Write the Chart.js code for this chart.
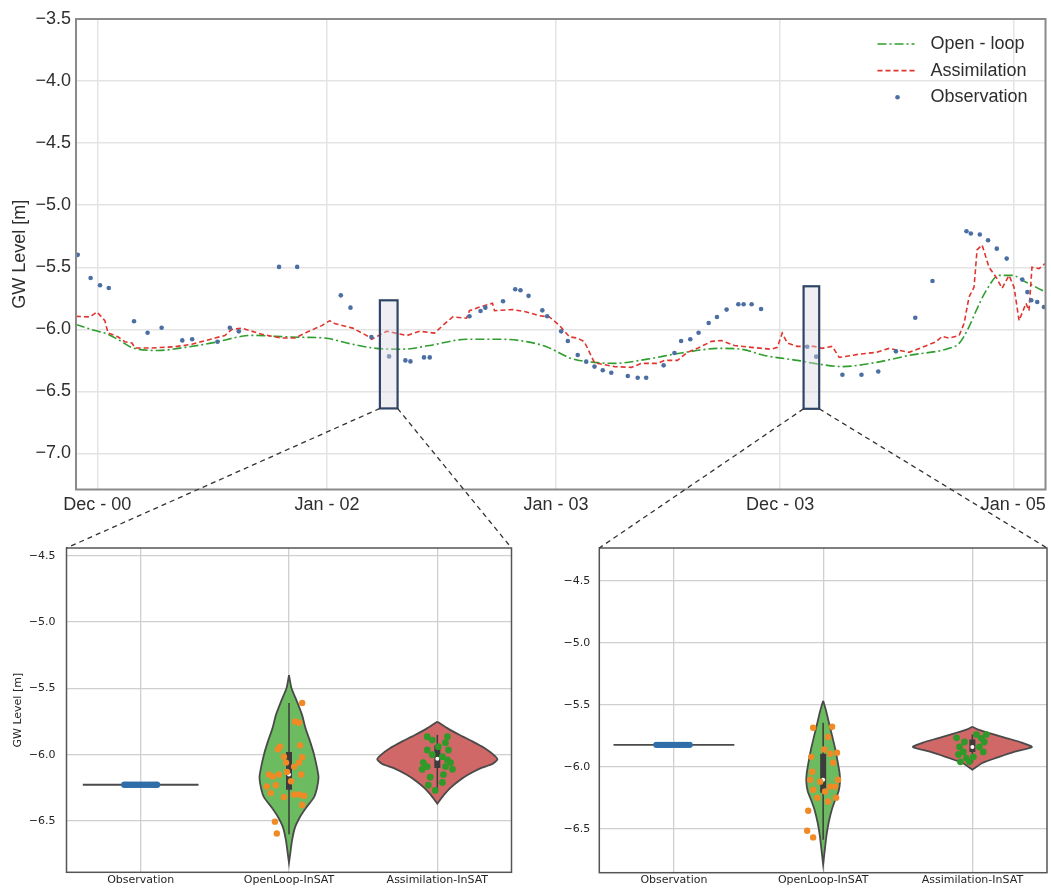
<!DOCTYPE html>
<html>
<head>
<meta charset="utf-8">
<script src="https://cdn.jsdelivr.net/npm/chart.js@4.4.1/dist/chart.umd.min.js"></script>
<style>
  body { margin: 0; background: #fff; width: 1051px; height: 892px; position: relative; overflow: hidden; }
  canvas { position: absolute; }
</style>
</head>
<body>
<canvas id="topChart" width="1051" height="520" style="left:0;top:0"></canvas>
<canvas id="leftChart" width="520" height="362" style="left:0;top:530px"></canvas>
<canvas id="rightChart" width="531" height="362" style="left:520px;top:530px"></canvas>
<canvas id="links" width="1051" height="892" style="left:0;top:0;pointer-events:none"></canvas>
<script>
// ---------- top panel: time series (x = position on time axis, 1 unit ~ one tick step)
var timeTicks = [0, 1.0, 1.997, 2.972, 3.987];
var timeLabels = ['Dec - 00', 'Jan - 02', 'Jan - 03', 'Dec - 03', 'Jan - 05'];
var levelTicks = [-7.0, -6.5, -6.0, -5.5, -5.0, -4.5, -4.0, -3.5];

var openLoopT = [-0.093, -0.010, 0.047, 0.107, 0.155, 0.264, 0.381, 0.512, 0.629, 0.686, 0.773, 0.890, 0.990, 1.086, 1.199, 1.329, 1.446, 1.607, 1.764, 1.838, 1.955, 2.033, 2.055, 2.164, 2.251, 2.394, 2.542, 2.716, 2.803, 2.903, 3.046, 3.120, 3.242, 3.390, 3.533, 3.707, 3.751, 3.794, 3.825, 3.868, 3.925, 3.981, 4.042, 4.112, 4.127];
var openLoopV = [-5.96, -6.01, -6.04, -6.10, -6.15, -6.17, -6.145, -6.105, -6.056, -6.048, -6.056, -6.064, -6.07, -6.11, -6.15, -6.16, -6.13, -6.08, -6.08, -6.09, -6.14, -6.21, -6.23, -6.266, -6.274, -6.24, -6.19, -6.153, -6.16, -6.21, -6.25, -6.274, -6.30, -6.266, -6.21, -6.153, -6.113, -5.98, -5.85, -5.69, -5.565, -5.565, -5.62, -5.685, -5.70];

var assimT = [-0.093, -0.032, -0.001, 0.033, 0.047, 0.090, 0.120, 0.151, 0.164, 0.238, 0.338, 0.412, 0.512, 0.555, 0.586, 0.629, 0.716, 0.803, 0.860, 0.916, 0.977, 1.012, 1.025, 1.112, 1.173, 1.194, 1.260, 1.347, 1.403, 1.468, 1.503, 1.547, 1.607, 1.620, 1.664, 1.720, 1.729, 1.807, 1.868, 1.925, 1.968, 2.012, 2.055, 2.090, 2.120, 2.164, 2.251, 2.325, 2.368, 2.438, 2.468, 2.525, 2.568, 2.612, 2.673, 2.716, 2.773, 2.847, 2.933, 2.960, 2.981, 3.003, 3.046, 3.120, 3.155, 3.199, 3.229, 3.316, 3.390, 3.447, 3.533, 3.590, 3.651, 3.677, 3.707, 3.751, 3.773, 3.794, 3.816, 3.829, 3.851, 3.881, 3.912, 3.938, 3.968, 3.990, 4.012, 4.042, 4.055, 4.068, 4.099, 4.125];
var assimV = [-5.895, -5.90, -5.86, -5.93, -6.03, -6.06, -6.10, -6.11, -6.15, -6.15, -6.14, -6.12, -6.07, -6.05, -6.00, -5.99, -6.04, -6.07, -6.07, -6.02, -5.97, -5.93, -5.95, -5.99, -6.05, -6.08, -6.015, -6.05, -6.015, -6.03, -5.97, -5.90, -5.91, -5.85, -5.82, -5.79, -5.85, -5.84, -5.86, -5.89, -5.90, -5.97, -6.06, -6.07, -6.10, -6.27, -6.30, -6.306, -6.274, -6.274, -6.25, -6.25, -6.185, -6.153, -6.097, -6.09, -6.13, -6.145, -6.16, -6.145, -6.03, -6.11, -6.137, -6.137, -6.153, -6.137, -6.226, -6.20, -6.185, -6.153, -6.185, -6.145, -6.10, -6.056, -6.07, -6.05, -5.95, -5.74, -5.66, -5.36, -5.32, -5.50, -5.58, -5.67, -5.565, -5.66, -5.93, -5.79, -5.85, -5.50, -5.51, -5.47];

var obsT = [-0.085, -0.029, 0.012, 0.050, 0.160, 0.219, 0.280, 0.370, 0.413, 0.523, 0.577, 0.616, 0.791, 0.870, 1.060, 1.102, 1.193, 1.270, 1.341, 1.363, 1.422, 1.447, 1.620, 1.668, 1.689, 1.766, 1.819, 1.842, 1.877, 1.937, 1.958, 2.019, 2.048, 2.091, 2.128, 2.164, 2.200, 2.237, 2.309, 2.352, 2.389, 2.465, 2.512, 2.541, 2.581, 2.617, 2.661, 2.697, 2.739, 2.790, 2.813, 2.848, 2.889, 3.090, 3.129, 3.243, 3.326, 3.399, 3.476, 3.560, 3.635, 3.783, 3.802, 3.841, 3.877, 3.915, 3.958, 4.026, 4.048, 4.065, 4.091, 4.120];
var obsV = [-5.40, -5.586, -5.645, -5.667, -5.935, -6.027, -5.987, -6.089, -6.08, -6.10, -5.987, -6.016, -5.497, -5.497, -5.726, -5.825, -6.062, -6.218, -6.25, -6.258, -6.226, -6.226, -5.895, -5.852, -5.825, -5.774, -5.677, -5.685, -5.73, -5.847, -5.895, -6.016, -6.094, -6.206, -6.26, -6.30, -6.33, -6.349, -6.376, -6.39, -6.39, -6.29, -6.19, -6.094, -6.08, -6.027, -5.949, -5.90, -5.841, -5.798, -5.798, -5.798, -5.836, -6.14, -6.22, -6.366, -6.366, -6.339, -6.177, -5.906, -5.61, -5.21, -5.228, -5.236, -5.282, -5.35, -5.43, -5.599, -5.70, -5.766, -5.78, -5.82];

// zoom windows marked on the time series
var boxStart = [1.230, 3.074];
var boxEnd = [1.307, 3.142];
var boxTop = [-5.766, -5.653];
var boxBottom = [-6.637, -6.64];

// ---------- violin panels
var violinCats = ['Observation', 'OpenLoop-InSAT', 'Assimilation-InSAT'];

// window 1 (left)
var w1ObsLevel = -6.227;
var w1ObsHalf = 0.39;
var w1ObsDotX = [-0.11, -0.095, -0.08, -0.062, -0.045, -0.028, -0.01, 0.008, 0.025, 0.043, 0.06, 0.078, 0.095, 0.11];
var w1OlLevels = [-5.40, -5.50, -5.60, -5.70, -5.80, -5.90, -6.00, -6.10, -6.17, -6.25, -6.32, -6.40, -6.47, -6.55, -6.65, -6.75, -6.815];
var w1OlHalf = [0, 0.017, 0.054, 0.088, 0.111, 0.142, 0.169, 0.189, 0.199, 0.189, 0.169, 0.115, 0.074, 0.040, 0.020, 0.008, 0];
var w1AsLevels = [-5.752, -5.80, -5.85, -5.90, -5.95, -6.00, -6.035, -6.07, -6.10, -6.15, -6.20, -6.25, -6.30, -6.35, -6.37];
var w1AsHalf = [0, 0.067, 0.148, 0.236, 0.317, 0.378, 0.405, 0.371, 0.297, 0.209, 0.142, 0.088, 0.047, 0.013, 0];
var w1OlBox = [-5.61, -5.98, -6.15, -6.265, -6.60];   // whisker top, q3, median, q1, whisker bottom
var w1AsBox = [-5.85, -5.93, -6.03, -6.10, -6.265];
var w1OlDotX = [1.089, 1.041, 1.068, 0.939, 0.925, 1.075, 1.089, 1.068, 0.966, 0.980, 1.034, 0.864, 0.891, 0.932, 0.986, 1.082, 1.014, 0.911, 0.850, 0.877, 1.034, 1.068, 1.102, 0.966, 1.089, 0.905, 0.918];
var w1OlDotY = [-5.61, -5.75, -5.76, -5.94, -5.96, -5.93, -6.02, -6.06, -6.015, -6.06, -6.09, -6.15, -6.165, -6.15, -6.13, -6.15, -6.20, -6.23, -6.24, -6.29, -6.30, -6.30, -6.31, -6.32, -6.38, -6.505, -6.595];
var w1AsDotX = [1.932, 1.966, 2.068, 2.055, 2.075, 1.932, 1.966, 2.034, 2.068, 2.089, 1.905, 1.932, 1.898, 2.055, 2.102, 2.041, 1.939, 1.986, 2.034, 2.007, 1.952];
var w1AsDotY = [-5.865, -5.89, -5.865, -5.91, -5.965, -5.965, -6.0, -6.015, -6.04, -6.06, -6.06, -6.09, -6.11, -6.09, -6.11, -6.15, -6.23, -6.27, -6.21, -5.94, -6.17];

// window 2 (right)
var w2ObsLevel = -5.823;
var w2ObsHalf = 0.405;
var w2ObsDotX = [-0.117, -0.1, -0.083, -0.066, -0.05, -0.033, -0.016, 0.0, 0.018, 0.035, 0.052, 0.07, 0.088, 0.105];
var w2OlLevels = [-5.468, -5.55, -5.65, -5.75, -5.85, -5.95, -6.05, -6.12, -6.20, -6.27, -6.35, -6.45, -6.55, -6.65, -6.79];
var w2OlHalf = [0, 0.020, 0.040, 0.060, 0.080, 0.096, 0.110, 0.113, 0.103, 0.080, 0.057, 0.037, 0.023, 0.013, 0];
var w2AsLevels = [-5.677, -5.70, -5.73, -5.77, -5.80, -5.84, -5.88, -5.92, -5.97, -6.024];
var w2AsHalf = [0, 0.040, 0.120, 0.233, 0.319, 0.399, 0.279, 0.180, 0.067, 0];
var w2OlBox = [-5.645, -5.895, -6.105, -6.21, -6.59];
var w2AsBox = [-5.74, -5.78, -5.84, -5.88, -5.97];
var w2OlDotX = [0.933, 1.06, 1.033, 1.007, 1.047, 1.093, 0.92, 1.067, 0.927, 0.913, 0.98, 1.1, 1.047, 1.08, 0.933, 0.96, 1.033, 1.087, 0.9, 0.893, 0.933, 1.013];
var w2OlDotY = [-5.685, -5.677, -5.76, -5.86, -5.895, -5.887, -5.92, -5.968, -6.04, -6.105, -6.12, -6.105, -6.16, -6.16, -6.185, -6.25, -6.28, -6.25, -6.355, -6.516, -6.57, -6.2];
var w2AsDotX = [1.894, 1.947, 1.914, 1.94, 1.96, 1.92, 2.027, 2.06, 2.08, 2.047, 2.073, 2.007, 1.98, 1.907, 2.093];
var w2AsDotY = [-5.766, -5.80, -5.84, -5.88, -5.93, -5.96, -5.74, -5.77, -5.80, -5.84, -5.88, -5.92, -5.96, -5.90, -5.74];

// ---------- helpers
function pairs(xs, ys) {
  var out = [];
  for (var i = 0; i < xs.length; i++) out.push({ x: xs[i], y: ys[i] });
  return out;
}
function minusFmt(v) {
  return (v < 0 ? '\u2212' : '') + Math.abs(v).toFixed(1);
}
function violinShape(c, levels, halves) {
  var pts = [];
  for (var i = 0; i < levels.length; i++) pts.push({ x: c + halves[i], y: levels[i] });
  for (var j = levels.length - 1; j >= 0; j--) pts.push({ x: c - halves[j], y: levels[j] });
  return pts;
}

var frame = {
  id: 'frame',
  afterDraw: function (chart, args, opts) {
    var ca = chart.chartArea, ctx = chart.ctx;
    ctx.save();
    ctx.strokeStyle = opts.color;
    ctx.lineWidth = opts.width;
    ctx.strokeRect(ca.left, ca.top, ca.right - ca.left, ca.bottom - ca.top);
    ctx.restore();
  }
};

var zoomBoxes = {
  id: 'zoomBoxes',
  afterDatasetsDraw: function (chart) {
    var ctx = chart.ctx, xs = chart.scales.x, ys = chart.scales.y;
    ctx.save();
    for (var i = 0; i < boxStart.length; i++) {
      var x0 = xs.getPixelForValue(boxStart[i]), x1 = xs.getPixelForValue(boxEnd[i]);
      var y0 = ys.getPixelForValue(boxTop[i]), y1 = ys.getPixelForValue(boxBottom[i]);
      ctx.fillStyle = 'rgba(215,215,225,0.4)';
      ctx.fillRect(x0, y0, x1 - x0, y1 - y0);
      ctx.strokeStyle = '#2f4566';
      ctx.lineWidth = 2.2;
      ctx.strokeRect(x0, y0, x1 - x0, y1 - y0);
    }
    ctx.restore();
  }
};

var insideLegend = {
  id: 'insideLegend',
  afterDraw: function (chart) {
    var ctx = chart.ctx, ca = chart.chartArea;
    ctx.save();
    ctx.font = '18px "Liberation Sans", Arial, sans-serif';
    ctx.textBaseline = 'middle';
    chart.data.datasets.forEach(function (ds, row) {
      var y = ca.top + 25 + row * 26.6;
      if (ds.showLine === false) {
        ctx.fillStyle = ds.backgroundColor;
        ctx.beginPath();
        ctx.arc(ca.right - 148, y, 2.3, 0, Math.PI * 2);
        ctx.fill();
      } else {
        ctx.strokeStyle = ds.borderColor;
        ctx.lineWidth = ds.borderWidth;
        ctx.setLineDash(ds.borderDash);
        ctx.beginPath();
        ctx.moveTo(ca.right - 168, y);
        ctx.lineTo(ca.right - 131, y);
        ctx.stroke();
        ctx.setLineDash([]);
      }
      ctx.fillStyle = '#2e2e2e';
      ctx.fillText(ds.label, ca.right - 115, y);
    });
    ctx.restore();
  }
};

// ---------- top chart
var topFont = '"Liberation Sans", Arial, sans-serif';
var topChart = new Chart(document.getElementById('topChart'), {
  type: 'line',
  data: {
    datasets: [
      {
        label: 'Open - loop',
        data: pairs(openLoopT, openLoopV),
        borderColor: '#2f9e2f',
        borderWidth: 1.6,
        borderDash: [9, 3, 2, 3],
        pointRadius: 0,
        cubicInterpolationMode: 'monotone',
        order: 3
      },
      {
        label: 'Assimilation',
        data: pairs(assimT, assimV),
        borderColor: '#e0352f',
        borderWidth: 1.6,
        borderDash: [5, 3],
        pointRadius: 0,
        tension: 0,
        order: 2
      },
      {
        label: 'Observation',
        data: pairs(obsT, obsV),
        showLine: false,
        pointRadius: 2.3,
        pointBorderWidth: 0,
        backgroundColor: '#4b6ea3',
        borderColor: '#4b6ea3',
        order: 1
      }
    ]
  },
  options: {
    responsive: false,
    animation: false,
    events: [],
    layout: { padding: { top: 19, right: 4, left: 0, bottom: 0 } },
    plugins: {
      legend: { display: false },
      tooltip: { enabled: false },
      frame: { color: '#8a8a8a', width: 2 }
    },
    scales: {
      x: {
        type: 'linear',
        bounds: 'data',
        min: -0.0926,
        max: 4.127,
        afterBuildTicks: function (s) { s.ticks = timeTicks.map(function (v) { return { value: v }; }); },
        afterFit: function (s) { s.height = 30.5; },
        ticks: {
          callback: function (v, i) { return timeLabels[i]; },
          autoSkip: false, maxRotation: 0, padding: 5,
          color: '#2e2e2e', font: { family: topFont, size: 18 }
        },
        grid: { color: '#e4e4e4', lineWidth: 1.5, drawTicks: false },
        border: { display: false }
      },
      y: {
        bounds: 'data',
        min: -7.29,
        max: -3.5,
        afterBuildTicks: function (s) { s.ticks = levelTicks.map(function (v) { return { value: v }; }); },
        afterFit: function (s) { s.width = 76; },
        ticks: { callback: minusFmt, padding: 5, color: '#2e2e2e', font: { family: topFont, size: 18 } },
        grid: { color: '#e4e4e4', lineWidth: 1.5, drawTicks: false },
        border: { display: false },
        title: { display: true, text: 'GW Level [m]', color: '#2e2e2e', font: { family: topFont, size: 18 }, padding: { top: 9, bottom: 0 } }
      }
    }
  },
  plugins: [frame, zoomBoxes, insideLegend]
});

// ---------- violin panels
function panelDatasets(p) {
  var sets = [];
  var dark = '#4a4a4a';
  // dots on top
  sets.push({ data: pairs(p.obsDotX, p.obsDotX.map(function () { return p.obsLevel; })), showLine: false, pointRadius: 3.2, pointBorderWidth: 0, backgroundColor: '#2f6ea8', order: 1 });
  sets.push({ data: pairs(p.olDotX, p.olDotY), showLine: false, pointRadius: 3.2, pointBorderWidth: 0, backgroundColor: '#f08a26', order: 1 });
  sets.push({ data: pairs(p.asDotX, p.asDotY), showLine: false, pointRadius: 3.4, pointBorderWidth: 0, backgroundColor: '#2f9a2a', order: 1 });
  // inner boxes
  [[1, p.olBox], [2, p.asBox]].forEach(function (b) {
    var c = b[0], q = b[1];
    sets.push({ data: [{ x: c, y: q[2] }], showLine: false, pointRadius: 2, pointBorderWidth: 0, backgroundColor: '#ffffff', order: 2 });
    sets.push({ data: [{ x: c, y: q[1] }, { x: c, y: q[3] }], borderColor: '#3c3c3c', borderWidth: 6, pointRadius: 0, order: 3 });
    sets.push({ data: [{ x: c, y: q[0] }, { x: c, y: q[4] }], borderColor: '#3c3c3c', borderWidth: 1.5, pointRadius: 0, order: 4 });
  });
  // violin bodies
  sets.push({ data: violinShape(0, [p.obsLevel], [p.obsHalf]), borderColor: dark, borderWidth: 1.8, pointRadius: 0, order: 5 });
  sets.push({ data: violinShape(1, p.olLevels, p.olHalf), borderColor: dark, borderWidth: 1.8, backgroundColor: '#6dbb60', fill: 'shape', pointRadius: 0, tension: 0.2, order: 5 });
  sets.push({ data: violinShape(2, p.asLevels, p.asHalf), borderColor: dark, borderWidth: 1.8, backgroundColor: '#d06868', fill: 'shape', pointRadius: 0, tension: 0.2, order: 5 });
  return sets;
}

var panelFont = '"DejaVu Sans", sans-serif';
function makePanel(id, p, yMin, yMax, yTicks, axisWidth, axisHeight, padRight, labelPad, withTitle) {
  return new Chart(document.getElementById(id), {
    type: 'line',
    data: { datasets: panelDatasets(p) },
    options: {
      responsive: false,
      animation: false,
      events: [],
      layout: { padding: { top: 18, right: padRight, left: 0, bottom: 0 } },
      plugins: {
        legend: { display: false },
        tooltip: { enabled: false },
        frame: { color: '#555555', width: 1.5 }
      },
      scales: {
        x: {
          type: 'linear',
          bounds: 'data',
          min: -0.5,
          max: 2.5,
          afterBuildTicks: function (s) { s.ticks = [0, 1, 2].map(function (v) { return { value: v }; }); },
          afterFit: function (s) { s.height = axisHeight; },
          ticks: {
            callback: function (v, i) { return violinCats[i]; },
            autoSkip: false, maxRotation: 0, padding: 1,
            color: '#262626', font: { family: panelFont, size: 11 }
          },
          grid: { color: '#cfcfcf', lineWidth: 1.3, drawTicks: false },
          border: { display: false }
        },
        y: {
          bounds: 'data',
          min: yMin,
          max: yMax,
          afterBuildTicks: function (s) { s.ticks = yTicks.map(function (v) { return { value: v }; }); },
          afterFit: function (s) { s.width = axisWidth; },
          ticks: { callback: minusFmt, padding: labelPad, color: '#262626', font: { family: panelFont, size: 11 } },
          grid: { color: '#cfcfcf', lineWidth: 1.3, drawTicks: false },
          border: { display: false },
          title: { display: withTitle, text: 'GW Level [m]', color: '#262626', font: { family: panelFont, size: 11 }, padding: { top: 12, bottom: 0 } }
        }
      }
    },
    plugins: [frame]
  });
}

var panelTicks = [-6.5, -6.0, -5.5, -5.0, -4.5];

var leftChart = makePanel('leftChart', {
  obsLevel: w1ObsLevel, obsHalf: w1ObsHalf, obsDotX: w1ObsDotX,
  olLevels: w1OlLevels, olHalf: w1OlHalf, asLevels: w1AsLevels, asHalf: w1AsHalf,
  olBox: w1OlBox, asBox: w1AsBox,
  olDotX: w1OlDotX, olDotY: w1OlDotY, asDotX: w1AsDotX, asDotY: w1AsDotY
}, -6.887, -4.442, panelTicks, 66.5, 19.7, 8.5, 11, true);

var rightChart = makePanel('rightChart', {
  obsLevel: w2ObsLevel, obsHalf: w2ObsHalf, obsDotX: w2ObsDotX.map(function (v) { return v; }),
  olLevels: w2OlLevels, olHalf: w2OlHalf, asLevels: w2AsLevels, asHalf: w2AsHalf,
  olBox: w2OlBox, asBox: w2AsBox,
  olDotX: w2OlDotX, olDotY: w2OlDotY, asDotX: w2AsDotX, asDotY: w2AsDotY
}, -6.855, -4.234, panelTicks, 79.3, 19.3, 1, 9, false);

// ---------- dashed connectors from the zoom boxes to the panels
function drawLinks() {
  var ctx = document.getElementById('links').getContext('2d');
  var xs = topChart.scales.x, ys = topChart.scales.y;
  var panels = [[leftChart, 0, 530], [rightChart, 520, 530]];
  ctx.strokeStyle = '#333333';
  ctx.lineWidth = 1.3;
  ctx.setLineDash([5, 4]);
  panels.forEach(function (p, i) {
    var ca = p[0].chartArea;
    var yb = ys.getPixelForValue(boxBottom[i]);
    ctx.beginPath();
    ctx.moveTo(xs.getPixelForValue(boxStart[i]), yb);
    ctx.lineTo(ca.left + p[1], ca.top + p[2]);
    ctx.moveTo(xs.getPixelForValue(boxEnd[i]), yb);
    ctx.lineTo(ca.right + p[1], ca.top + p[2]);
    ctx.stroke();
  });
}
drawLinks();
</script>
</body>
</html>
